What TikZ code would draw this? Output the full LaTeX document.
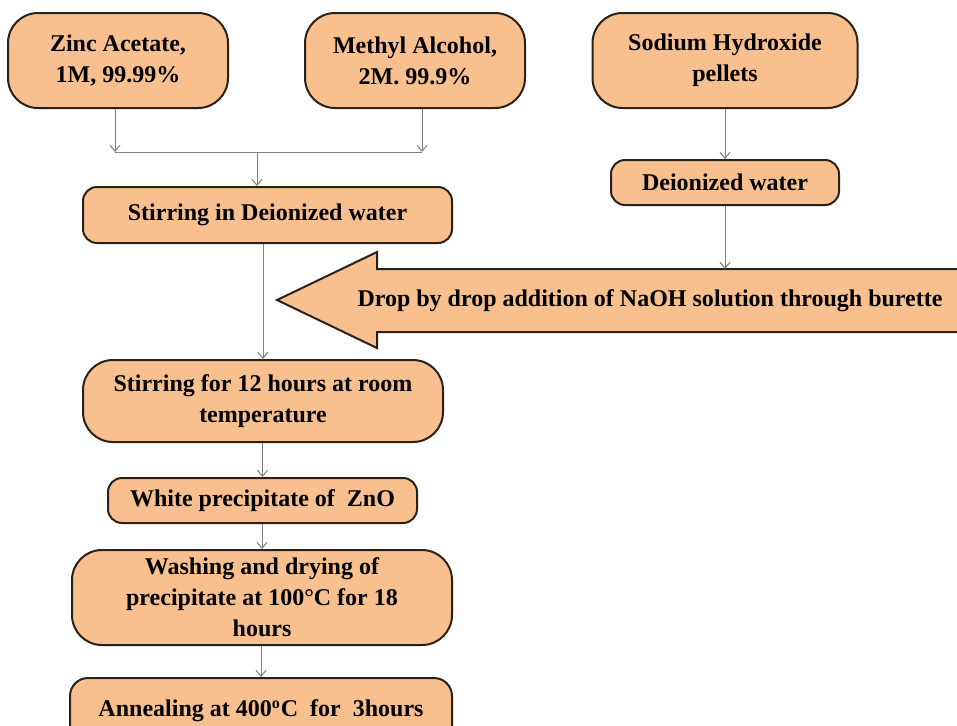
\documentclass[tikz,border=0pt]{standalone}
\usepackage{fontspec}
\setmainfont{Liberation Serif}
\usetikzlibrary{arrows.meta,positioning,calc}
\definecolor{peach}{HTML}{F9C08F}
\definecolor{edge}{HTML}{2B2118}
\definecolor{wire}{HTML}{7F7F7F}
\tikzset{
  step_box/.style={draw=edge,fill=peach,line width=1pt,rounded corners=15pt,
    font=\fontsize{12}{15.5}\selectfont\bfseries,align=center,inner sep=2pt},
  step_small/.style={step_box,rounded corners=7pt},
  big_arrow/.style={draw=edge,fill=peach,line width=1pt},
  arr/.style={-{Straight Barb[length=3pt,width=5pt]},draw=wire,line width=0.5pt},
  lin/.style={draw=wire,line width=0.5pt},
}

\begin{document}
\begin{tikzpicture}[x=0.5pt,y=-0.5pt]
    \useasboundingbox (0,0) rectangle (957,725);
    % starting materials
    \node[step_box,minimum width=110pt,minimum height=47.5pt] (zinc) at (118,60.5) {Zinc Acetate,\\1M, 99.99\%};
    \node[step_box,minimum width=110pt,minimum height=47.5pt] (meth) at (415,60.5) {Methyl Alcohol,\\2M. 99.9\%};
    \node[step_box,minimum width=132.5pt,minimum height=47.5pt] (naoh) at (725,60.5) {Sodium Hydroxide\\pellets};
    \node[step_small,minimum width=114pt,minimum height=22.5pt] (diw) at (725,182.5) {Deionized water};
    \node[step_small,minimum width=184.5pt,minimum height=28pt] (stir) at (267.5,215) {Stirring in Deionized water};
    % NaOH addition
    \draw[big_arrow] (277,300) -- (377,252) -- (377,269) -- (1040,269) -- (1040,332) -- (377,332) -- (377,348) -- cycle;
    \node[font=\fontsize{12}{13.5}\selectfont\bfseries] (drop) at (650,301) {Drop by drop addition of NaOH solution through burette};
    \coordinate (droptop) at (725,269);
    % main column
    \node[step_box,minimum width=180pt,minimum height=41pt] (stir12) at (263,401) {Stirring for 12 hours at room\\temperature};
    \node[step_small,minimum width=154.5pt,minimum height=22.5pt] (white) at (262.5,500.5) {White precipitate of~ ZnO};
    \node[step_box,minimum width=190pt,minimum height=47.5pt] (wash) at (262,597.5) {Washing and drying of\\precipitate at 100°C for 18\\hours};
    \node[step_small,minimum width=191pt,minimum height=33pt,rounded corners=9pt] (anneal) at (261,711) {Annealing at 400\textsuperscript{o}C~ for~ 3hours};
    % joins
    \coordinate (jl) at (115,152);
    \coordinate (jr) at (422,152);
    \coordinate (jc) at (257,152);
    \draw[arr] (zinc.south -| jl) -- (jl);
    \draw[arr] (meth.south -| jr) -- (jr);
    \draw[lin] (jl) -- (jr);
    \draw[arr] (jc) -- (stir.north -| jc);
    \draw[arr] (naoh) -- (diw);
    \draw[arr] (diw) -- (droptop);
    \draw[arr] (stir.south -| stir12) -- (stir12);
    \draw[arr] (stir12.south -| white) -- (white);
    \draw[arr] (white.south -| wash) -- (wash);
    \draw[arr] (wash.south -| anneal) -- (anneal);
\end{tikzpicture}
\end{document}
